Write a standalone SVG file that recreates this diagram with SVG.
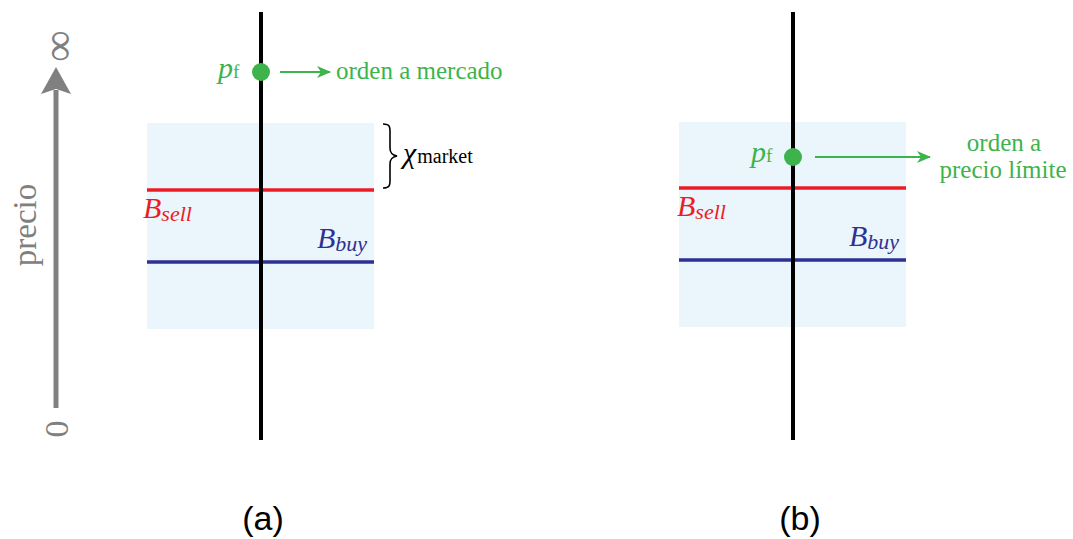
<svg xmlns="http://www.w3.org/2000/svg" width="1073" height="539" viewBox="0 0 1073 539">
<defs>
<marker id="ga" viewBox="0 0 14 12" refX="13" refY="6" markerWidth="14" markerHeight="12" markerUnits="userSpaceOnUse" orient="auto">
<path d="M0,0 L14,6 L0,12 L4,6 Z" fill="#3cb44b"/>
</marker>
</defs>
<rect width="1073" height="539" fill="#fff"/>

<g id="price-axis">
<line x1="56" y1="408" x2="56" y2="90" stroke="#808080" stroke-width="5"/>
<path d="M56,67 L71,94 L56,89 L41,94 Z" fill="#808080"/>
<text font-family="Liberation Serif" font-size="44" fill="#808080" transform="translate(58,46) rotate(-90)" text-anchor="middle" dominant-baseline="central">∞</text>
<text font-family="Liberation Serif" font-size="34" fill="#808080" transform="translate(68,429) rotate(-90)" text-anchor="middle">0</text>
<text font-family="Liberation Serif" font-size="33" fill="#808080" transform="translate(36,225) rotate(-90)" text-anchor="middle">precio</text>
</g>

<g id="panel-a">
<rect fill="#eaf6fb" x="147" y="123" width="227" height="206"/>
<line stroke="#ec1c24" stroke-width="3.5" x1="147" y1="190" x2="374" y2="190"/>
<line stroke="#2e3192" stroke-width="3.5" x1="147" y1="262" x2="374" y2="262"/>
<line stroke="#000" stroke-width="4" x1="261" y1="12" x2="261" y2="440"/>
<circle fill="#3cb44b" cx="261" cy="72" r="9"/>
<text font-family="Liberation Serif" font-size="30" fill="#3cb44b" x="218" y="78"><tspan font-style="italic">p</tspan><tspan font-size="19">f</tspan></text>
<text font-family="Liberation Serif" font-size="25" fill="#3cb44b" x="336" y="79">orden a mercado</text>
<text font-family="Liberation Serif" font-style="italic" font-size="30" fill="#ec1c24" x="143" y="218">B<tspan font-size="22" dy="3">sell</tspan></text>
<text font-family="Liberation Serif" font-style="italic" font-size="30" fill="#2e3192" x="317" y="248">B<tspan font-size="22" dy="3">buy</tspan></text>
<path d="M383,124 C391,124 390,128 390,136 L390,148 C390,153 392,155 397,156 C392,157 390,159 390,164 L390,176 C390,184 391,188 383,188" fill="none" stroke="#000" stroke-width="1.6"/>
<text font-family="Liberation Serif" font-size="30" fill="#000" x="403" y="163"><tspan font-style="italic">χ</tspan><tspan font-size="20" dx="1">market</tspan></text>
<text font-family="Liberation Sans" font-size="34" fill="#000" x="263" y="530" text-anchor="middle">(a)</text>
</g>

<g id="panel-b">
<rect fill="#eaf6fb" x="679" y="122" width="227" height="205"/>
<line stroke="#ec1c24" stroke-width="3.5" x1="679" y1="188" x2="906" y2="188"/>
<line stroke="#2e3192" stroke-width="3.5" x1="679" y1="260" x2="906" y2="260"/>
<line stroke="#000" stroke-width="4" x1="793" y1="12" x2="793" y2="440"/>
<circle fill="#3cb44b" cx="793" cy="157" r="9"/>
<text font-family="Liberation Serif" font-size="30" fill="#3cb44b" x="751" y="162"><tspan font-style="italic">p</tspan><tspan font-size="19">f</tspan></text>
<text font-family="Liberation Serif" font-size="25" fill="#3cb44b" x="1004" y="151" text-anchor="middle">orden a</text>
<text font-family="Liberation Serif" font-size="25" fill="#3cb44b" x="1003" y="178" text-anchor="middle">precio límite</text>
<text font-family="Liberation Serif" font-style="italic" font-size="30" fill="#ec1c24" x="677" y="216">B<tspan font-size="22" dy="3">sell</tspan></text>
<text font-family="Liberation Serif" font-style="italic" font-size="30" fill="#2e3192" x="849" y="246">B<tspan font-size="22" dy="3">buy</tspan></text>
<text font-family="Liberation Sans" font-size="34" fill="#000" x="800" y="530" text-anchor="middle">(b)</text>
</g>

<g id="connectors">
<line stroke="#3cb44b" stroke-width="2" x1="280" y1="72" x2="330" y2="72" marker-end="url(#ga)"/>
<line stroke="#3cb44b" stroke-width="2" x1="815" y1="157" x2="930" y2="157" marker-end="url(#ga)"/>
</g>
</svg>
